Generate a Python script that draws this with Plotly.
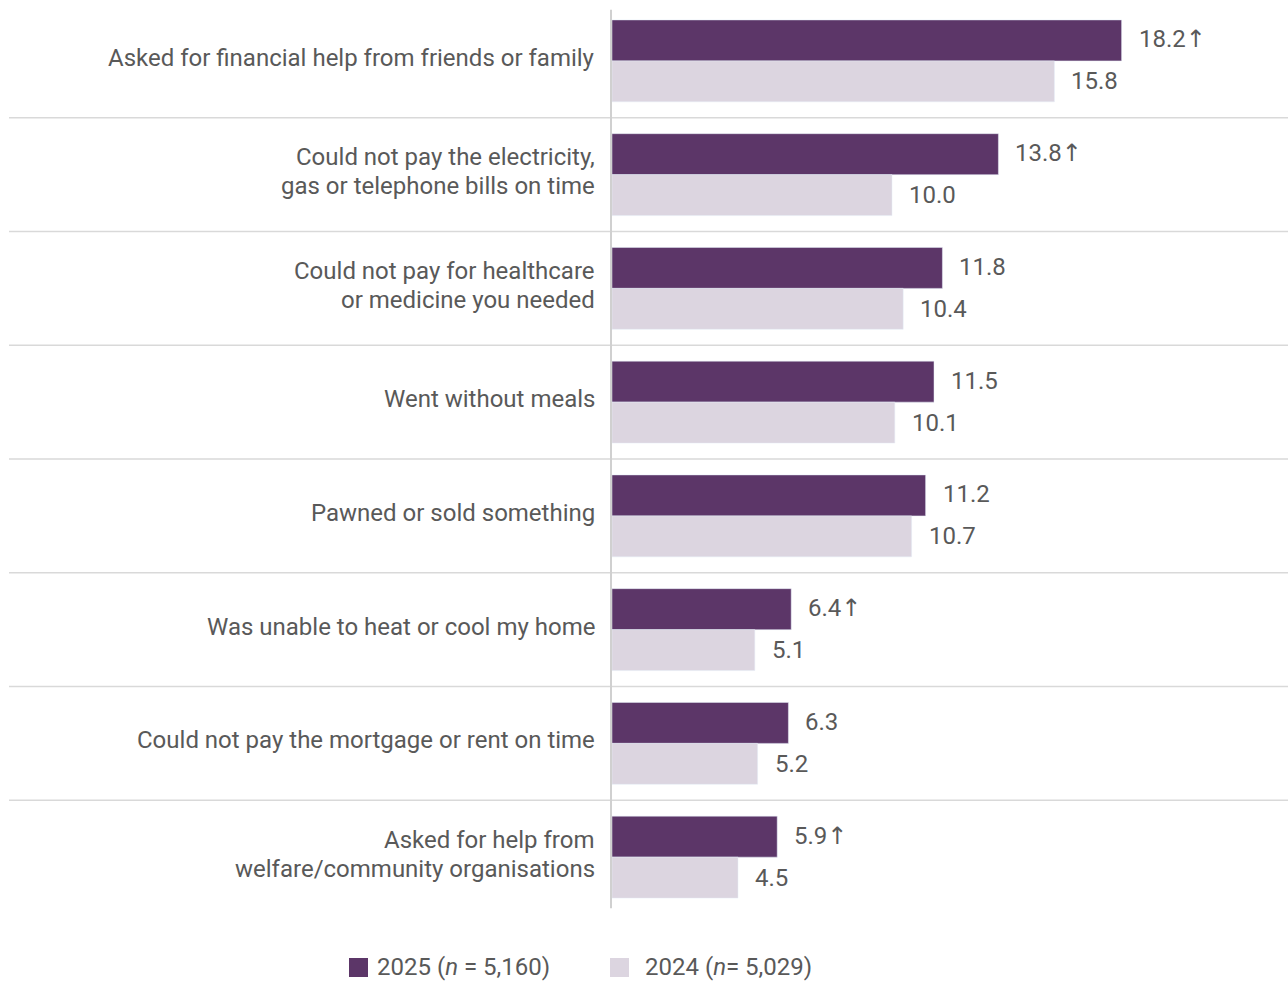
import plotly.graph_objects as go

categories = [
    "Asked for financial help from friends or family",
    "Could not pay the electricity,<br>gas or telephone bills on time",
    "Could not pay for healthcare<br>or medicine you needed",
    "Went without meals",
    "Pawned or sold something",
    "Was unable to heat or cool my home",
    "Could not pay the mortgage or rent on time",
    "Asked for help from<br>welfare/community organisations",
]
values_2025 = [18.2, 13.8, 11.8, 11.5, 11.2, 6.4, 6.3, 5.9]
values_2024 = [15.8, 10.0, 10.4, 10.1, 10.7, 5.1, 5.2, 4.5]
# significant increase vs previous year
sig_increase = [True, True, False, False, False, True, False, True]

series_names = ["2025 (<i>n</i> = 5,160)", "2024 (<i>n</i>= 5,029)"]

DARK = "#5c3668"
LIGHT = "#dcd5e0"
TEXT = "#595959"
GRID = "#d9d9d9"
FONT = "Roboto"
FS = 24
LINE_GAP = 29  # px between wrapped label lines

W, H = 1288, 984
ML, MR, MT, MB = 612, 0, 4, 70
PW, PH = W - ML - MR, H - MT - MB

ARROW = "<span style='font-family:DejaVu Sans'>\u2191</span>"


def px_x(p):
    return (p - ML) / PW


def px_y(p):
    return (H - MB - p) / PH


idx = list(range(len(categories)))
fig = go.Figure()
fig.add_trace(go.Bar(y=idx, x=values_2025, orientation="h", marker_color=DARK,
                     width=0.36, offset=-0.36, showlegend=False, hoverinfo="x"))
fig.add_trace(go.Bar(y=idx, x=values_2024, orientation="h", marker_color=LIGHT,
                     width=0.36, offset=0.0, showlegend=False, hoverinfo="x"))

annotations = []
for i, cat in enumerate(categories):
    lines = cat.split("<br>")
    n = len(lines)
    for j, line in enumerate(lines):
        shift = 3 + ((n - 1) / 2 - j) * LINE_GAP
        annotations.append(dict(x=0, xref="paper", y=i, yref="y", text=line,
                                xanchor="right", yanchor="middle", align="right",
                                xshift=-15, yshift=shift, showarrow=False,
                                font=dict(family=FONT, size=FS, color=TEXT)))
    lab25 = f"{values_2025[i]:.1f}" + (ARROW if sig_increase[i] else "")
    annotations.append(dict(x=values_2025[i], y=i - 0.18, text=lab25,
                            xanchor="left", yanchor="middle", xshift=15, yshift=1,
                            showarrow=False,
                            font=dict(family=FONT, size=FS, color=TEXT)))
    annotations.append(dict(x=values_2024[i], y=i + 0.18, text=f"{values_2024[i]:.1f}",
                            xanchor="left", yanchor="middle", xshift=15,
                            showarrow=False,
                            font=dict(family=FONT, size=FS, color=TEXT)))

shapes = []
for k in range(len(categories) - 1):
    shapes.append(dict(type="line", xref="paper", yref="y",
                       x0=px_x(9), x1=1.0, y0=k + 0.5, y1=k + 0.5,
                       line=dict(color=GRID, width=1.5), layer="below"))
shapes.append(dict(type="line", xref="paper", yref="y",
                   x0=px_x(611), x1=px_x(611), y0=-0.45, y1=len(categories) - 0.55,
                   line=dict(color="#d0d0d0", width=2), layer="below"))

# legend
legend_items = [(349, 375, DARK, series_names[0]), (610, 643, LIGHT, series_names[1])]
for sq_x, tx, col, name in legend_items:
    shapes.append(dict(type="rect", xref="paper", yref="paper",
                       x0=px_x(sq_x), x1=px_x(sq_x + 19),
                       y0=px_y(977), y1=px_y(958),
                       line=dict(width=0), fillcolor=col))
    annotations.append(dict(x=px_x(tx), xref="paper", y=px_y(983), yref="paper",
                            text=name, xanchor="left", yanchor="bottom",
                            showarrow=False,
                            font=dict(family=FONT, size=FS, color=TEXT)))

fig.update_layout(
    width=W, height=H,
    margin=dict(l=ML, r=MR, t=MT, b=MB),
    plot_bgcolor="white", paper_bgcolor="white",
    barmode="overlay",
    xaxis=dict(range=[0, PW / 28.0], visible=False, fixedrange=True),
    yaxis=dict(range=[len(categories) - 0.5, -0.5], visible=False, fixedrange=True),
    annotations=annotations,
    shapes=shapes,
    showlegend=False,
)

fig.write_html("out.html")
